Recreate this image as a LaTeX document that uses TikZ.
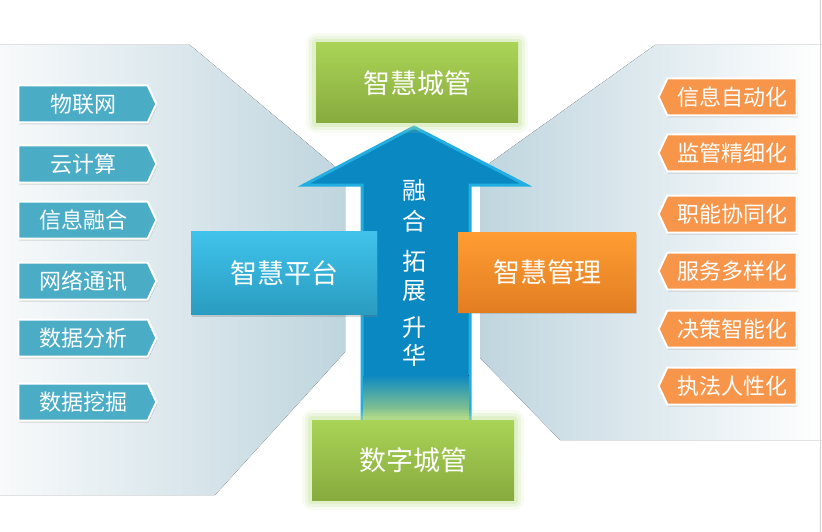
\documentclass[tikz,border=0pt]{standalone}
\usepackage{fontspec}
\setmainfont{Noto Sans CJK SC}
\usetikzlibrary{shapes.symbols, shadows}

\definecolor{tagblue}{HTML}{4BACC6}
\definecolor{tagorange}{HTML}{F7964A}
\definecolor{arrowblue}{HTML}{0A88C2}
\definecolor{arrowedge}{HTML}{22AEE0}
\definecolor{greentop}{HTML}{A9D456}
\definecolor{greenbot}{HTML}{88AA3E}
\definecolor{glowgreen}{HTML}{C4E394}
\definecolor{cyantop}{HTML}{40C3EB}
\definecolor{cyanbot}{HTML}{2A9CC0}
\definecolor{orangetop}{HTML}{FF9D33}
\definecolor{orangebot}{HTML}{E27E22}
\definecolor{fadeblue}{HTML}{BFD5DE}
\definecolor{fadelight}{HTML}{F8FAFB}

\tikzset{
  tagbase/.style={signal, signal pointer angle=130, draw=white, line width=2pt,
    minimum width=138pt, minimum height=37pt, inner sep=0pt, text=white,
    font=\fontsize{22}{22}\selectfont,
    drop shadow={shadow xshift=1pt, shadow yshift=-2pt, opacity=0.3}},
  lefttag/.style={tagbase, signal to=east, fill=tagblue},
  righttag/.style={tagbase, signal to=west, fill=tagorange},
  citybox/.style={rectangle, minimum width=202pt, minimum height=80pt,
    top color=greentop, bottom color=greenbot, text=white,
    font=\fontsize{27}{27}\selectfont,
    preaction={draw=glowgreen, line width=20pt, opacity=0.12, line join=round},
    preaction={draw=glowgreen, line width=14pt, opacity=0.18, line join=round},
    preaction={draw=glowgreen, line width=8pt, opacity=0.3, line join=round}},
  sidebox/.style={rectangle, text=white, font=\fontsize{27}{27}\selectfont,
    drop shadow={shadow xshift=1pt, shadow yshift=-2pt, opacity=0.3}},
  arrowtext/.style={text=white, font=\fontsize{24}{24}\selectfont}
}

\begin{document}
\begin{tikzpicture}[x=1pt, y=-1pt]
    \useasboundingbox (0,0) rectangle (822,532);

    % sfondo
    \fill[white] (0,0) rectangle (822,532);
    \fill[left color=fadelight, right color=fadeblue]
        (0,45) -- (190,45) -- (345,175) -- (345,352) -- (215,495) -- (0,495) -- cycle;
    \fill[left color=fadeblue, right color=white]
        (655,45) -- (822,45) -- (822,440) -- (560,440) -- (480,358) -- (480,170) -- cycle;
    \draw[gray!35, line width=1pt] (820,0) -- (820,532);

    % freccia
    \coordinate (tip) at (414,127);
    \coordinate (hl) at (304,185);
    \coordinate (hr) at (526,185);
    \coordinate (sl) at (362,185);
    \coordinate (sr) at (470,185);
    \coordinate (bl) at (362,425);
    \coordinate (br) at (470,425);
    \draw[fill=arrowblue, draw=arrowedge, line width=3pt, line join=miter]
        (bl) -- (sl) -- (hl) -- (tip) -- (hr) -- (sr) -- (br) -- cycle;
    \fill[top color=arrowblue, middle color=arrowedge!70, bottom color=greentop!80]
        (363.5,375) rectangle (468.5,425);

    \foreach \ch/\y [count=\i] in {融/190, 合/221, 拓/261, 展/291, 升/328, 华/355}
        \node[arrowtext] (a\i) at (414,\y) {\ch};

    % blocchi laterali
    \node[sidebox, minimum width=186pt, minimum height=83pt,
          top color=cyantop, bottom color=cyanbot] (platform) at (284,273) {智慧平台};
    \node[sidebox, minimum width=178pt, minimum height=80pt,
          top color=orangetop, bottom color=orangebot] (manage) at (547,272) {智慧管理};

    % blocchi verdi
    \node[citybox] (smart) at (417,83) {智慧城管};
    \node[citybox] (digital) at (413,460) {数字城管};

    % etichette a sinistra
    \foreach \txt/\y [count=\i] in {物联网/104, 云计算/164, 信息融合/220,
                                     网络通讯/281, 数据分析/338, 数据挖掘/402}
        \node[lefttag] (l\i) at (83,\y) {\txt};

    % etichette a destra
    \foreach \txt/\y [count=\i] in {信息自动化/97, 监管精细化/153, 职能协同化/214,
                                     服务多样化/271, 决策智能化/329, 执法人性化/386}
        \node[righttag] (r\i) at (732,\y) {\txt};
\end{tikzpicture}
\end{document}
